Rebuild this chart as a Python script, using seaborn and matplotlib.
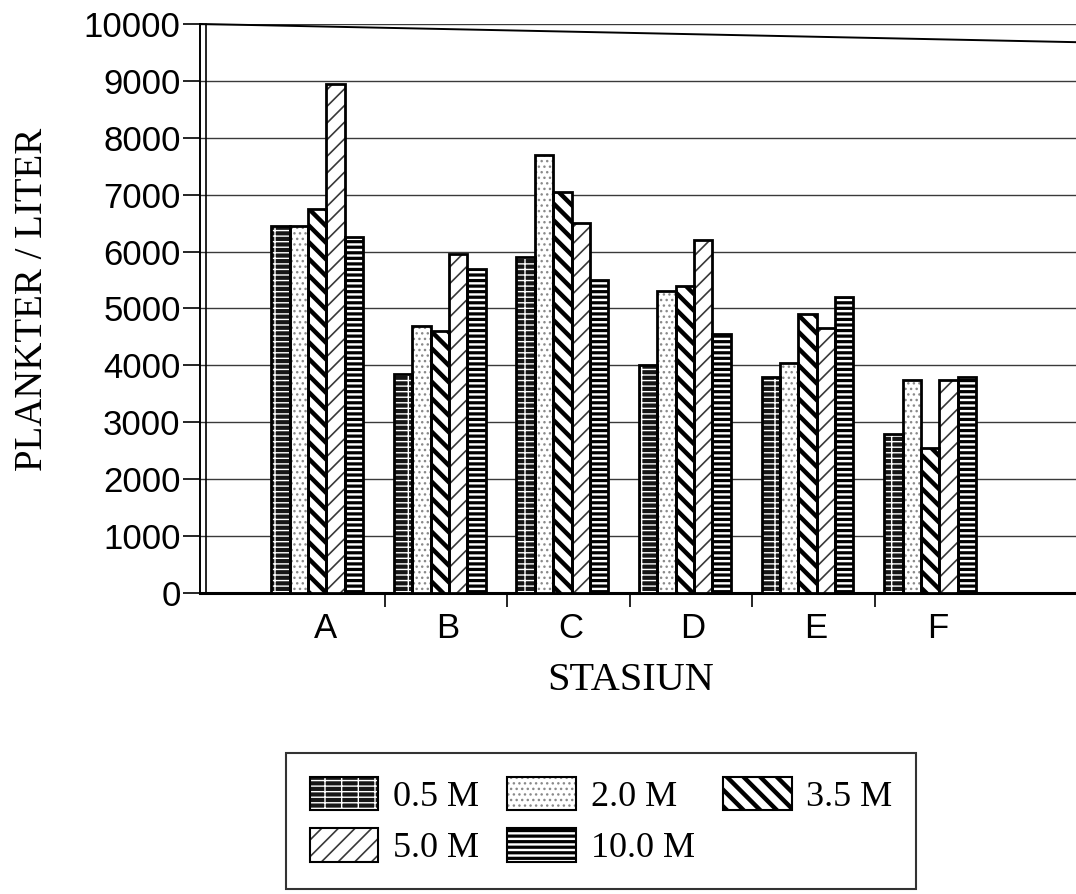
import matplotlib
matplotlib.use("Agg")
import matplotlib.pyplot as plt
import matplotlib.transforms as mtrans
from matplotlib.patches import Patch, Rectangle
import numpy as np
import pandas as pd
import seaborn as sns

# Plankton density per station and sampling depth
stations = ["A", "B", "C", "D", "E", "F"]
depths = ["0.5 M", "2.0 M", "3.5 M", "5.0 M", "10.0 M"]
d_05 = [6450, 3850, 5900, 4000, 3800, 2800]
d_20 = [6450, 4700, 7700, 5300, 4050, 3750]
d_35 = [6750, 4600, 7050, 5400, 4900, 2550]
d_50 = [8950, 5950, 6500, 6200, 4650, 3750]
d_100 = [6250, 5700, 5500, 4550, 5200, 3800]
y_ticks = [0, 1000, 2000, 3000, 4000, 5000, 6000, 7000, 8000, 9000, 10000]

series = [d_05, d_20, d_35, d_50, d_100]
df = pd.DataFrame(
    [(s, d, v) for d, vals in zip(depths, series) for s, v in zip(stations, vals)],
    columns=["Stasiun", "Kedalaman", "Plankter"],
)

# fill styles: face colour, hatch, hatch colour, hatch line width
styles = {
    "0.5 M": ("#161616", "+--", "white", 1.0),
    "2.0 M": ("white", "...", "#8a8a8a", 1.0),
    "3.5 M": ("white", "\\\\", "black", 3.2),
    "5.0 M": ("white", "//", "#383838", 1.2),
    "10.0 M": ("white", "---", "black", 2.3),
}


def styled_rect(xy, w, h, depth, **kw):
    fc, hatch, hc, hlw = styles[depth]
    r = Rectangle(xy, w, h, facecolor=fc, hatch=hatch, edgecolor=hc, lw=0, **kw)
    if hasattr(r, "set_hatch_linewidth"):
        r.set_hatch_linewidth(hlw)
    return r


class HatchHandler:
    """Legend key: hatched swatch with a black outline."""

    def legend_artist(self, legend, orig_handle, fontsize, handlebox):
        x0, y0 = -handlebox.xdescent, -handlebox.ydescent
        w, h = handlebox.width, handlebox.height
        tr = handlebox.get_transform()
        fill = styled_rect((x0, y0), w, h, orig_handle.get_label(), transform=tr)
        edge = Rectangle((x0, y0), w, h, fill=False, ec="black", lw=1.5, transform=tr)
        handlebox.add_artist(fill)
        handlebox.add_artist(edge)
        return fill


sns.set_style("white")
plt.rcParams["font.family"] = ["Liberation Sans", "DejaVu Sans"]
plt.rcParams["text.color"] = "black"
plt.rcParams["axes.labelcolor"] = "black"
plt.rcParams["xtick.color"] = "black"
plt.rcParams["ytick.color"] = "black"
serif = ["Liberation Serif", "DejaVu Serif"]

fig = plt.figure(figsize=(10.76, 8.94), dpi=100)
ax = fig.add_axes([0.1859, 0.3367, 0.8141, 0.6365])

sns.barplot(
    data=df, x="Stasiun", y="Plankter", hue="Kedalaman",
    order=stations, hue_order=depths, width=0.75, saturation=1,
    palette=["white"] * len(depths), legend=False, ax=ax, zorder=3,
)

for depth, cont in zip(depths, ax.containers):
    fc, hatch, hc, hlw = styles[depth]
    for bar in cont:
        bar.set_facecolor(fc)
        bar.set_hatch(hatch)
        bar.set_edgecolor(hc)
        bar.set_linewidth(0)
        if hasattr(bar, "set_hatch_linewidth"):
            bar.set_hatch_linewidth(hlw)
        ax.add_patch(Rectangle(bar.get_xy(), bar.get_width(), bar.get_height(),
                               fill=False, ec="black", lw=2.0, zorder=4))

ax.set_xlim(-0.955, 6.19)
ax.set_ylim(0, 10000)
ax.set_yticks(y_ticks)
ax.set_yticklabels([str(t) for t in y_ticks], fontsize=25, color="black")
ax.set_xticks(range(len(stations)))
ax.set_xticklabels(stations, fontsize=25, color="black")
ax.set_xticks(np.arange(len(stations) - 1) + 0.55, minor=True)
ax.tick_params(axis="x", which="major", length=0, pad=14)
ax.tick_params(axis="x", which="minor", direction="out", length=10, width=1.2, color="black", bottom=True)
ax.tick_params(axis="y", direction="out", length=12, width=1.2, color="black", left=True, pad=2)

# station letters sit slightly right of the bar groups
shift = mtrans.ScaledTranslation(8 / 100, 0, fig.dpi_scale_trans)
for lab in ax.get_xticklabels():
    lab.set_transform(lab.get_transform() + shift)

ax.yaxis.grid(True, color="#3a3a3a", lw=1.0)
ax.xaxis.grid(False)
ax.set_axisbelow(True)

for side in ["top", "right"]:
    ax.spines[side].set_visible(False)
ax.spines["left"].set_color("black")
ax.spines["left"].set_linewidth(1.4)
ax.spines["bottom"].set_color("black")
ax.spines["bottom"].set_linewidth(2.2)

# back-wall edges of the 3-D frame
ax.plot([0.007, 0.007], [0, 1.0], transform=ax.transAxes, color="black", lw=1.2, clip_on=False)
ax.plot([0, 1], [1.0, 0.968], transform=ax.transAxes, color="black", lw=1.4, clip_on=False)

ax.set_xlabel("STASIUN", fontsize=29, family=serif, labelpad=12, color="black")
ax.xaxis.label.set_x(0.492)
ax.set_ylabel("PLANKTER / LITER", fontsize=28, family=serif, color="black")
ax.yaxis.set_label_coords(-0.170, 0.516)

# row-wise order in a three-column legend
leg_order = ["0.5 M", "5.0 M", "2.0 M", "10.0 M", "3.5 M"]
handles = [Patch(label=d) for d in leg_order]
leg = fig.legend(
    handles=handles, labels=leg_order, loc="center", bbox_to_anchor=(0.5586, 0.0815),
    ncol=3, prop={"family": serif, "size": 26}, frameon=True, fancybox=False,
    edgecolor="black", handlelength=1.9, handleheight=1.05, handletextpad=0.4,
    columnspacing=0.8, borderpad=0.65, labelspacing=0.4,
    handler_map={Patch: HatchHandler()},
)
leg.get_frame().set_linewidth(1.5)

fig.savefig("out.png", dpi=100, facecolor="white")
